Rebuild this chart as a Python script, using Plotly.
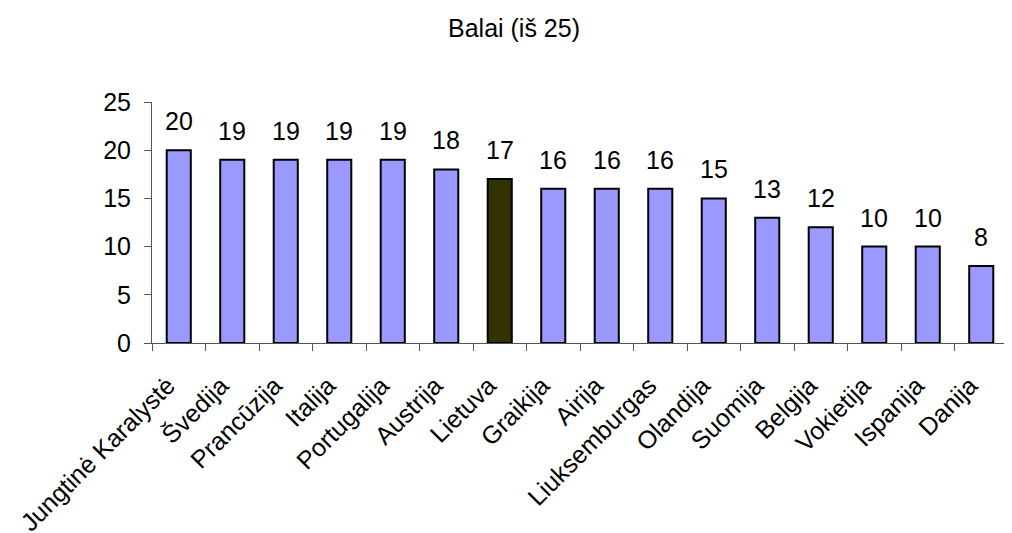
import plotly.graph_objects as go

countries = ["Jungtinė Karalystė", "Švedija", "Prancūzija", "Italija", "Portugalija",
             "Austrija", "Lietuva", "Graikija", "Airija", "Liuksemburgas", "Olandija",
             "Suomija", "Belgija", "Vokietija", "Ispanija", "Danija"]
scores = [20, 19, 19, 19, 19, 18, 17, 16, 16, 16, 15, 13, 12, 10, 10, 8]
highlight = "Lietuva"

colors = ["#333300" if c == highlight else "#9999FF" for c in countries]
FONT = "Liberation Sans, Arial, sans-serif"
FS = 25

fig = go.Figure(go.Bar(
    x=countries, y=scores,
    marker=dict(color=colors, line=dict(color="black", width=2)),
    width=0.45,
))

for c, v in zip(countries, scores):
    fig.add_annotation(x=c, y=v, text=str(v), showarrow=False,
                       yanchor="bottom", yshift=13,
                       font=dict(family=FONT, size=FS, color="black"))

fig.update_layout(
    width=1012, height=533,
    margin=dict(l=144, r=12, t=94, b=198),
    plot_bgcolor="white", paper_bgcolor="white",
    showlegend=False,
    title=dict(text="Balai (iš 25)", x=0.5, xref="container", xanchor="center",
               y=0.962, yref="container", yanchor="middle",
               font=dict(family=FONT, size=FS, color="black")),
    font=dict(family=FONT, size=FS, color="black"),
)
fig.update_xaxes(showline=True, linecolor="#555555", linewidth=1,
                 ticks="outside", tickson="boundaries", ticklen=7, tickcolor="#555555",
                 tickangle=-45, tickfont=dict(family=FONT, size=FS, color="black"),
                 ticklabelstandoff=17, ticklabelshift=-11,
                 showgrid=False, automargin=False)
fig.update_yaxes(range=[0, 25], dtick=5, showline=True, linecolor="#555555", linewidth=1,
                 ticks="outside", ticklen=7, tickcolor="#555555", showgrid=False,
                 zeroline=False, ticklabelstandoff=8, automargin=False,
                 tickfont=dict(family=FONT, size=FS, color="black"))

fig.write_html("out.html")
